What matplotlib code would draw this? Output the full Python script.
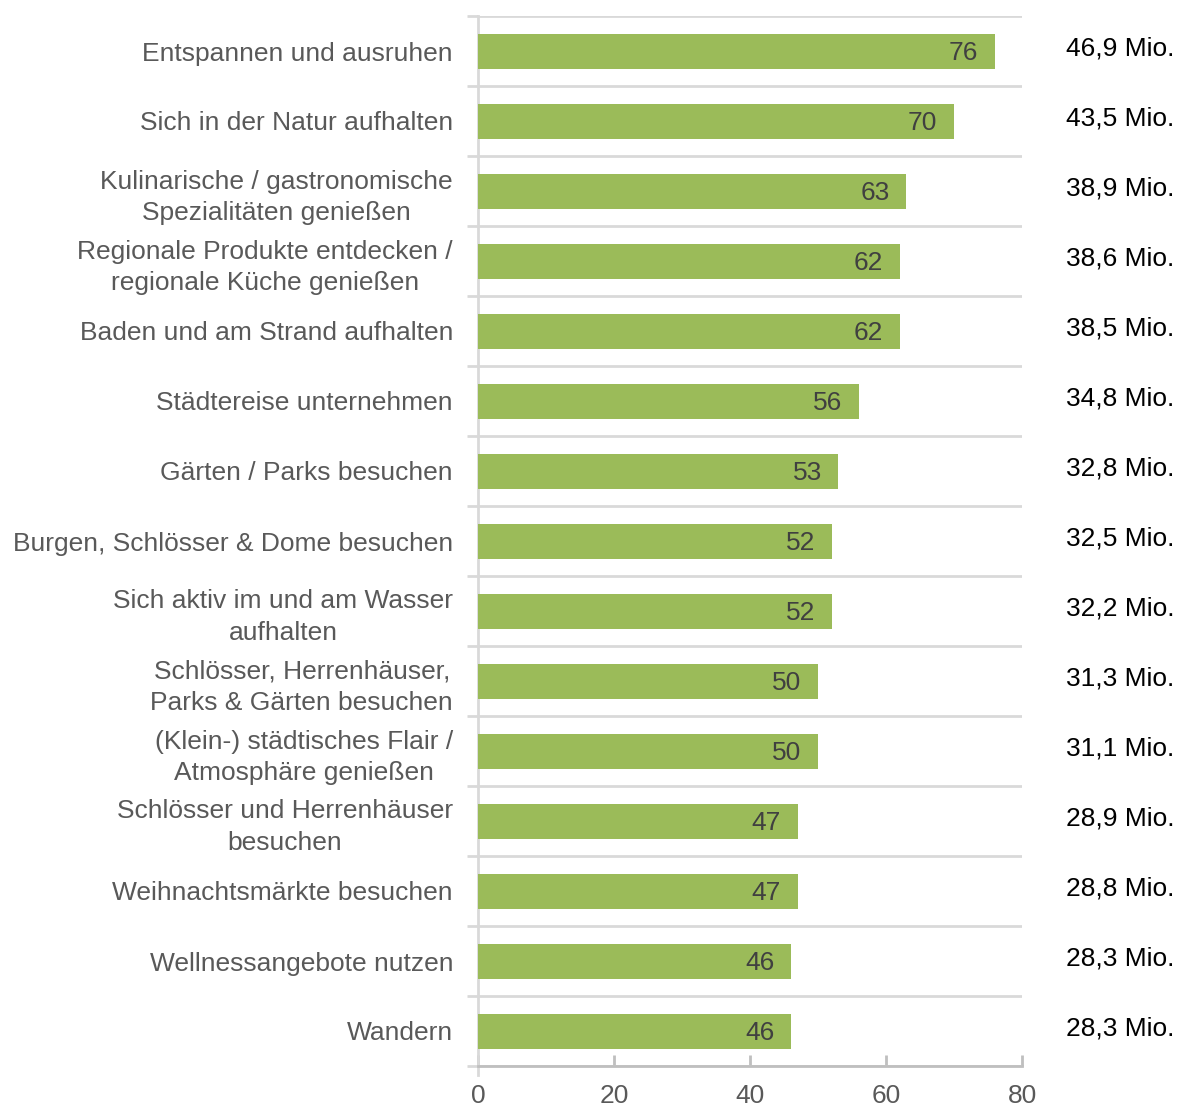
import matplotlib
matplotlib.use("Agg")
import matplotlib.pyplot as plt
import numpy as np

plt.rcParams['font.family'] = ['Liberation Sans', 'DejaVu Sans']

categories = [
    "Entspannen und ausruhen",
    "Sich in der Natur aufhalten",
    "Kulinarische / gastronomische\nSpezialitäten genießen",
    "Regionale Produkte entdecken /\nregionale Küche genießen",
    "Baden und am Strand aufhalten",
    "Städtereise unternehmen",
    "Gärten / Parks besuchen",
    "Burgen, Schlösser & Dome besuchen",
    "Sich aktiv im und am Wasser\naufhalten",
    "Schlösser, Herrenhäuser,\nParks & Gärten besuchen",
    "(Klein-) städtisches Flair /\nAtmosphäre genießen",
    "Schlösser und Herrenhäuser\nbesuchen",
    "Weihnachtsmärkte besuchen",
    "Wellnessangebote nutzen",
    "Wandern",
]
values = [76, 70, 63, 62, 62, 56, 53, 52, 52, 50, 50, 47, 47, 46, 46]
mio_labels = ["46,9 Mio.", "43,5 Mio.", "38,9 Mio.", "38,6 Mio.", "38,5 Mio.",
              "34,8 Mio.", "32,8 Mio.", "32,5 Mio.", "32,2 Mio.", "31,3 Mio.",
              "31,1 Mio.", "28,9 Mio.", "28,8 Mio.", "28,3 Mio.", "28,3 Mio."]
xticks = [0, 20, 40, 60, 80]

W, H = 1179, 1106
fig = plt.figure(figsize=(W / 100, H / 100), dpi=100)
ax = fig.add_axes([478 / W, 1 - 1066 / H, (1022 - 478) / W, (1066 - 16) / H])

n = len(categories)
y = np.arange(n)
ax.barh(y, values, height=0.5, color="#9BBB59", zorder=3)
ax.set_ylim(n - 0.5, -0.5)
ax.set_xlim(0, 80)

grid_col = "#D9D9D9"
ax.set_yticks(np.arange(-0.5, n, 1.0))
ax.set_yticklabels([])
ax.set_yticks(y, minor=True)
ax.set_yticklabels(categories, minor=True, fontsize=19, color="#595959",
                   ha="right", multialignment="center", linespacing=1.4)
ax.tick_params(axis="y", which="major", length=8, width=2, color=grid_col, direction="out")
ax.tick_params(axis="y", which="minor", length=0, pad=18)
ax.grid(axis="y", which="major", color=grid_col, linewidth=2, zorder=0)

ax.set_xticks(xticks)
ax.set_xticklabels([str(t) for t in xticks], fontsize=19, color="#595959")
ax.tick_params(axis="x", which="major", length=8, width=2, color="#BFBFBF", direction="in", pad=13)

for s in ["top", "right"]:
    ax.spines[s].set_visible(False)
ax.spines["left"].set_color(grid_col)
ax.spines["left"].set_linewidth(2)
ax.spines["bottom"].set_color("#BFBFBF")
ax.spines["bottom"].set_linewidth(2)
# left spine extends slightly below the x axis
ax.plot([0, 0], [n - 0.5, n - 0.5 + 9 / 70], color=grid_col, lw=2, clip_on=False, zorder=1)

for yi, v, lab in zip(y, values, mio_labels):
    ax.annotate(str(v), xy=(v, yi), xytext=(-12, 0), textcoords="offset points",
                ha="right", va="center_baseline", fontsize=19, color="#404040", zorder=4)
    ax.annotate(lab, xy=(1066 / W, yi), xycoords=("figure fraction", "data"),
                xytext=(0, 1.5), textcoords="offset points",
                ha="left", va="center", fontsize=19, color="#000000",
                annotation_clip=False)

fig.savefig("out.png", dpi=100)
